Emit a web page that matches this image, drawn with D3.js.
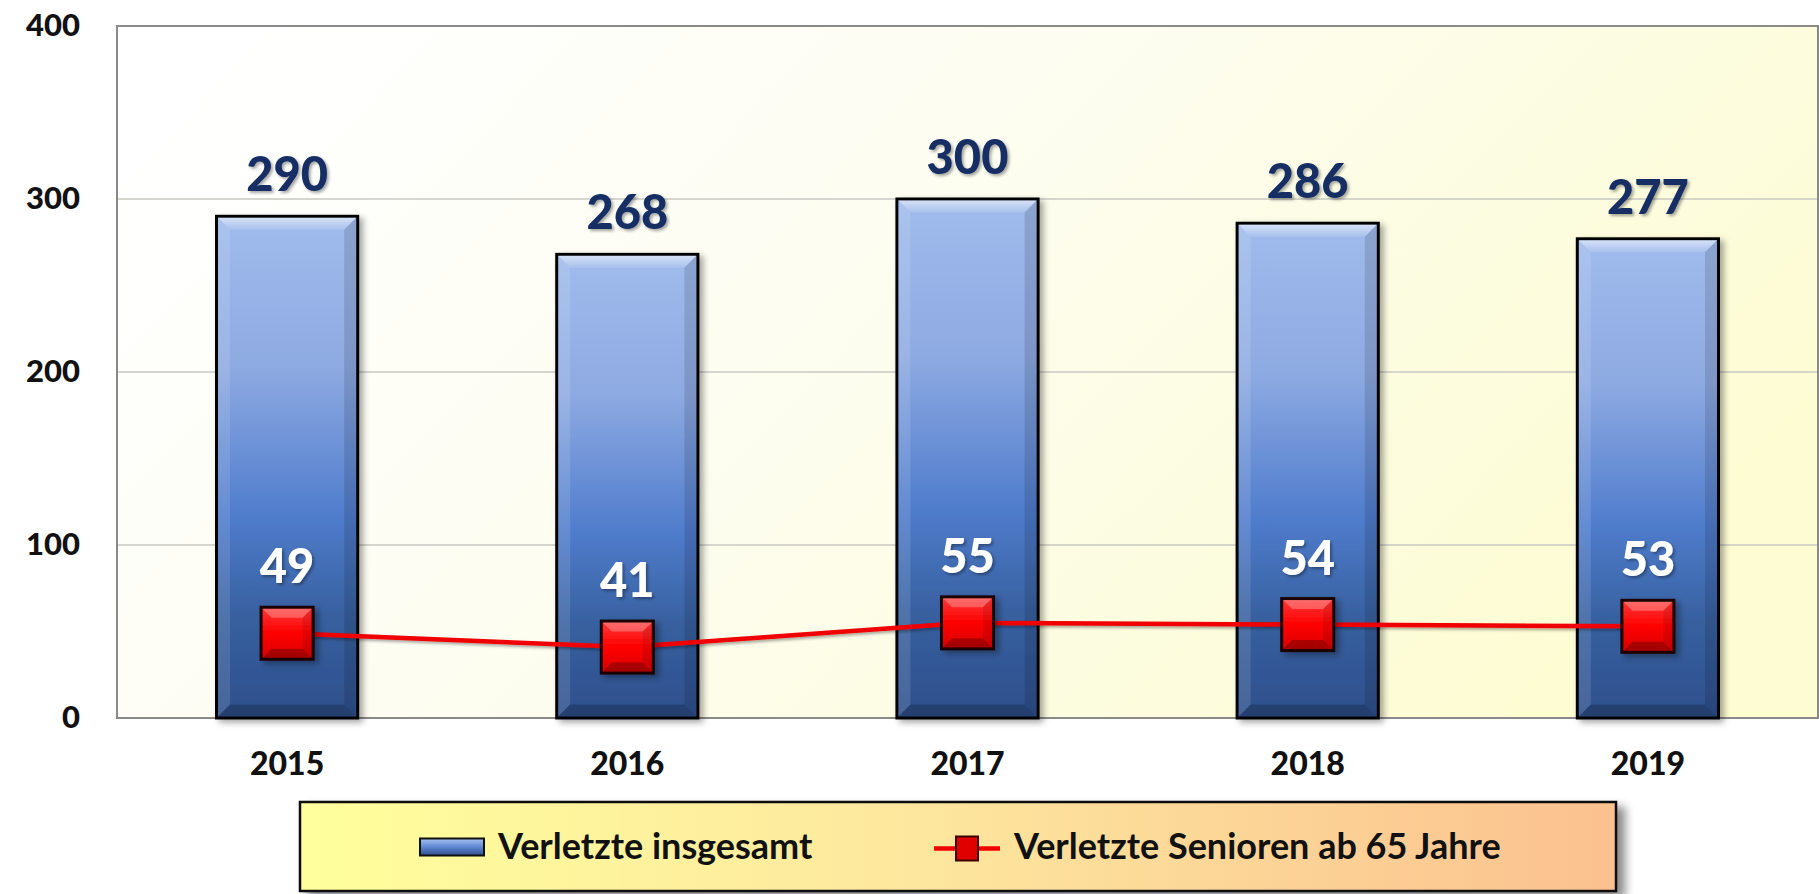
<!DOCTYPE html>
<html><head><meta charset="utf-8">
<script src="https://cdn.jsdelivr.net/npm/d3@7"></script>
<style>
html,body{margin:0;padding:0;background:#fff;}
svg{display:block;font-family:Lato,"Open Sans",sans-serif;}
</style></head>
<body>
<svg id="chart" width="1819" height="894"></svg>
<script>
const years = ["2015","2016","2017","2018","2019"];
const totalInjured = [290,268,300,286,277];
const seniorsInjured = [49,41,55,54,53];
const yTicks = [0,100,200,300,400];
const seriesNames = ["Verletzte insgesamt","Verletzte Senioren ab 65 Jahre"];

const svg = d3.select("#chart");
const plot = {left:117, right:1818, top:26, bottom:718};

const defs = svg.append("defs");
const bg = defs.append("linearGradient").attr("id","bgGrad").attr("x1","0").attr("y1","0.2").attr("x2","1").attr("y2","0.6");
bg.append("stop").attr("offset","0").attr("stop-color","#ffffff");
bg.append("stop").attr("offset","0.45").attr("stop-color","#fdfdf0");
bg.append("stop").attr("offset","1").attr("stop-color","#fdfcd2");
const bg2 = defs.append("linearGradient").attr("id","barGrad").attr("x1","0").attr("y1","0").attr("x2","0").attr("y2","1");
bg2.append("stop").attr("offset","0").attr("stop-color","#a0bbec");
bg2.append("stop").attr("offset","0.3").attr("stop-color","#8eaae2");
bg2.append("stop").attr("offset","0.6").attr("stop-color","#4f7ccc");
bg2.append("stop").attr("offset","0.8").attr("stop-color","#37609f");
bg2.append("stop").attr("offset","1").attr("stop-color","#2e4f8c");
const topBev = defs.append("linearGradient").attr("id","topBev").attr("x1","0").attr("y1","0").attr("x2","0").attr("y2","1");
topBev.append("stop").attr("offset","0").attr("stop-color","#ffffff").attr("stop-opacity",0.55);
topBev.append("stop").attr("offset","1").attr("stop-color","#ffffff").attr("stop-opacity",0.1);
const lg = defs.append("linearGradient").attr("id","legGrad").attr("x1","0").attr("y1","0").attr("x2","1").attr("y2","0");
lg.append("stop").attr("offset","0").attr("stop-color","#ffff9c");
lg.append("stop").attr("offset","0.45").attr("stop-color","#fde89e");
lg.append("stop").attr("offset","1").attr("stop-color","#fbc18f");
const lsg = defs.append("linearGradient").attr("id","legBar").attr("x1","0").attr("y1","0").attr("x2","0").attr("y2","1");
lsg.append("stop").attr("offset","0").attr("stop-color","#a8c2f0");
lsg.append("stop").attr("offset","0.5").attr("stop-color","#5d87d2");
lsg.append("stop").attr("offset","1").attr("stop-color","#2e4f8c");
const rg = defs.append("linearGradient").attr("id","redGrad").attr("x1","0").attr("y1","0").attr("x2","0").attr("y2","1");
rg.append("stop").attr("offset","0").attr("stop-color","#ff3a3a");
rg.append("stop").attr("offset","0.5").attr("stop-color","#ff0000");
rg.append("stop").attr("offset","1").attr("stop-color","#d80000");
const sh = defs.append("filter").attr("id","shadow").attr("x","-20%").attr("y","-20%").attr("width","150%").attr("height","150%");
sh.append("feDropShadow").attr("dx",4).attr("dy",3).attr("stdDeviation",3).attr("flood-color","#000").attr("flood-opacity",0.35);
const tsh = defs.append("filter").attr("id","tshadow").attr("x","-20%").attr("y","-20%").attr("width","150%").attr("height","150%");
tsh.append("feDropShadow").attr("dx",2).attr("dy",2).attr("stdDeviation",1.5).attr("flood-color","#000").attr("flood-opacity",0.35);
const lsh = defs.append("filter").attr("id","lshadow").attr("x","-5%").attr("y","-20%").attr("width","115%").attr("height","160%");
lsh.append("feDropShadow").attr("dx",8).attr("dy",6).attr("stdDeviation",5).attr("flood-color","#000").attr("flood-opacity",0.45);

const x = d3.scaleBand().domain(years).range([plot.left, plot.right]).paddingInner(0.585).paddingOuter(0.2925);
const y = d3.scaleLinear().domain([0,400]).range([plot.bottom, plot.top]);

svg.append("rect").attr("x",plot.left).attr("y",plot.top).attr("width",plot.right-plot.left).attr("height",plot.bottom-plot.top).attr("fill","url(#bgGrad)");

svg.append("g").selectAll("line").data(yTicks.filter(t=>t>0 && t<400)).join("line")
  .attr("x1",plot.left).attr("x2",plot.right).attr("y1",d=>y(d)).attr("y2",d=>y(d))
  .attr("stroke","#c9c9c2").attr("stroke-width",1.5);

svg.append("rect").attr("x",plot.left).attr("y",plot.top).attr("width",plot.right-plot.left).attr("height",plot.bottom-plot.top)
  .attr("fill","none").attr("stroke","#8a8a8a").attr("stroke-width",2);

const yAxis = d3.axisLeft(y).tickValues(yTicks).tickSize(0).tickPadding(37);
const gy = svg.append("g").attr("transform",`translate(${plot.left},0)`).call(yAxis);
gy.select(".domain").remove();
gy.selectAll("text").attr("font-family","Lato, sans-serif").attr("font-weight","900").attr("font-size",31).attr("fill","#111");

const xAxis = d3.axisBottom(x).tickSize(0).tickPadding(34);
const gx = svg.append("g").attr("transform",`translate(0,${plot.bottom})`).call(xAxis);
gx.select(".domain").remove();
gx.selectAll("text").attr("font-family","Lato, sans-serif").attr("font-weight","900").attr("font-size",32).attr("fill","#111");

const bw = x.bandwidth();
const bData = years.map((yr,i)=>({yr, v: totalInjured[i]}));
const bars = svg.append("g").selectAll("g").data(bData).join("g");
bars.append("rect").attr("x",d=>x(d.yr)).attr("y",d=>y(d.v)).attr("width",bw).attr("height",d=>y(0)-y(d.v))
  .attr("fill","url(#barGrad)").attr("stroke","#050505").attr("stroke-width",3).attr("filter","url(#shadow)");
const bev = 12;
bars.append("path").attr("d",d=>{
  const x0=x(d.yr)+1.5, x1=x(d.yr)+bw-1.5, y0=y(d.v)+1.5;
  return `M${x0},${y0}L${x1},${y0}L${x1-bev},${y0+bev}L${x0+bev},${y0+bev}Z`;
}).attr("fill","url(#topBev)");
bars.append("path").attr("d",d=>{
  const x0=x(d.yr)+1.5, y0=y(d.v)+1.5, y1=y(0)-1.5;
  return `M${x0},${y0}L${x0+bev},${y0+bev}L${x0+bev},${y1-bev}L${x0},${y1}Z`;
}).attr("fill","#ffffff").attr("opacity",0.12);
bars.append("path").attr("d",d=>{
  const x1=x(d.yr)+bw-1.5, y0=y(d.v)+1.5, y1=y(0)-1.5;
  return `M${x1},${y0}L${x1-bev},${y0+bev}L${x1-bev},${y1-bev}L${x1},${y1}Z`;
}).attr("fill","#000").attr("opacity",0.12);
bars.append("path").attr("d",d=>{
  const x0=x(d.yr)+1.5, x1=x(d.yr)+bw-1.5, y1=y(0)-1.5;
  return `M${x0},${y1}L${x0+bev},${y1-bev}L${x1-bev},${y1-bev}L${x1},${y1}Z`;
}).attr("fill","#000").attr("opacity",0.2);

svg.append("g").selectAll("text").data(bData).join("text")
  .attr("x",d=>x(d.yr)+bw/2).attr("y",d=>y(d.v)-25).attr("text-anchor","middle")
  .attr("font-family","Lato, sans-serif").attr("font-weight","900").attr("font-size",47).attr("fill","#142f64")
  .attr("filter","url(#tshadow)").text(d=>d.v);

const cx = yr => x(yr)+bw/2;
const line = d3.line().x(d=>cx(d.yr)).y(d=>y(d.v));
const sData = years.map((yr,i)=>({yr, v: seniorsInjured[i]}));
svg.append("path").datum(sData).attr("d",line).attr("fill","none").attr("stroke","#f00000").attr("stroke-width",4.5).attr("filter","url(#tshadow)");

const ms = 52;
const mk = svg.append("g").selectAll("g").data(sData).join("g").attr("transform",d=>`translate(${cx(d.yr)},${y(d.v)})`);
mk.append("rect").attr("x",-ms/2).attr("y",-ms/2).attr("width",ms).attr("height",ms).attr("fill","url(#redGrad)")
  .attr("stroke","#1a0000").attr("stroke-width",3).attr("filter","url(#shadow)");
const mb = 9;
mk.append("path").attr("d",`M${-ms/2+1.5},${-ms/2+1.5}L${ms/2-1.5},${-ms/2+1.5}L${ms/2-1.5-mb},${-ms/2+1.5+mb}L${-ms/2+1.5+mb},${-ms/2+1.5+mb}Z`).attr("fill","#fff").attr("opacity",0.25);
mk.append("path").attr("d",`M${-ms/2+1.5},${ms/2-1.5}L${-ms/2+1.5+mb},${ms/2-1.5-mb}L${ms/2-1.5-mb},${ms/2-1.5-mb}L${ms/2-1.5},${ms/2-1.5}Z`).attr("fill","#000").attr("opacity",0.25);
mk.append("path").attr("d",`M${ms/2-1.5},${-ms/2+1.5}L${ms/2-1.5-mb},${-ms/2+1.5+mb}L${ms/2-1.5-mb},${ms/2-1.5-mb}L${ms/2-1.5},${ms/2-1.5}Z`).attr("fill","#000").attr("opacity",0.1);

svg.append("g").selectAll("text").data(sData).join("text")
  .attr("x",d=>cx(d.yr)).attr("y",d=>y(d.v)-50).attr("text-anchor","middle")
  .attr("font-family","Lato, sans-serif").attr("font-weight","900").attr("font-size",47).attr("fill","#ffffff")
  .attr("filter","url(#tshadow)").text(d=>d.v);

const leg = {x:300, y:802, w:1316, h:89};
svg.append("rect").attr("x",leg.x).attr("y",leg.y).attr("width",leg.w).attr("height",leg.h)
  .attr("fill","url(#legGrad)").attr("stroke","#111").attr("stroke-width",2.5).attr("filter","url(#lshadow)");
const ly = leg.y + leg.h/2;
svg.append("rect").attr("x",420).attr("y",ly-8).attr("width",64).attr("height",17).attr("fill","url(#legBar)").attr("stroke","#111").attr("stroke-width",2);
svg.append("text").attr("x",498).attr("y",ly).attr("dy","0.35em").attr("font-family","Lato, sans-serif").attr("font-weight","bold")
  .attr("font-size",36).attr("fill","#111").text(seriesNames[0]);
svg.append("line").attr("x1",934).attr("x2",1000).attr("y1",ly+2).attr("y2",ly+2).attr("stroke","#f00000").attr("stroke-width",4.5);
svg.append("rect").attr("x",956).attr("y",ly-10).attr("width",22).attr("height",24).attr("fill","#e00000").attr("stroke","#3a0000").attr("stroke-width",2);
svg.append("text").attr("x",1014).attr("y",ly).attr("dy","0.35em").attr("font-family","Lato, sans-serif").attr("font-weight","bold")
  .attr("font-size",36).attr("fill","#111").text(seriesNames[1]);
</script>
</body></html>
